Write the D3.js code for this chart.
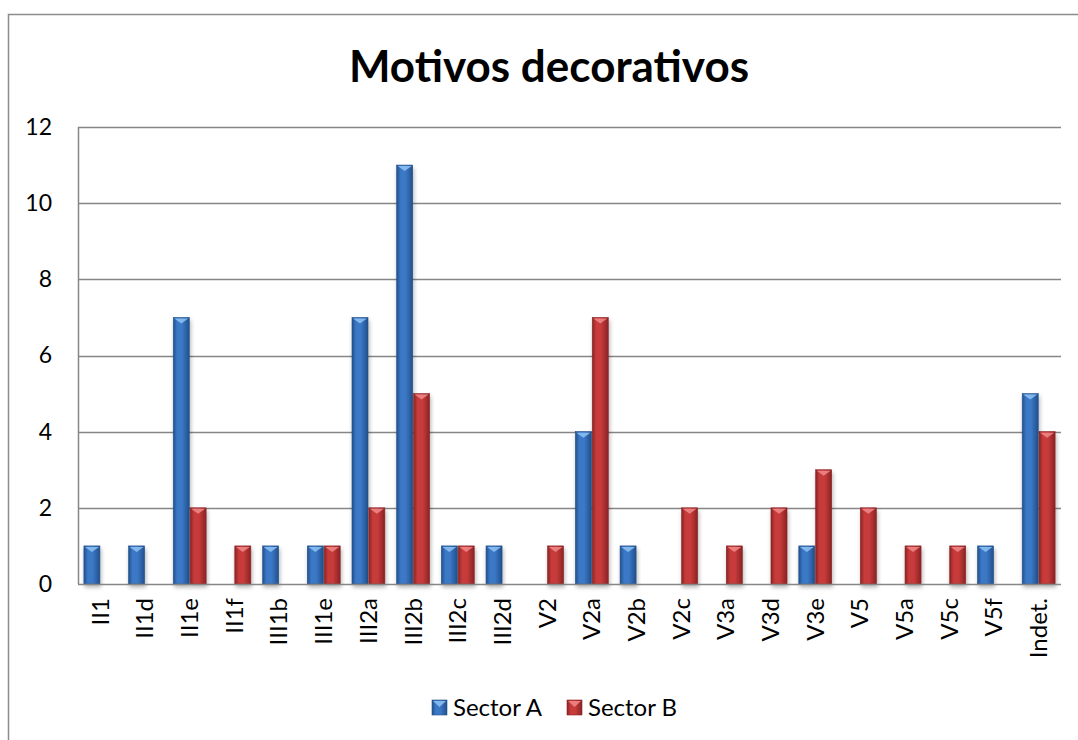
<!DOCTYPE html>
<html>
<head>
<meta charset="utf-8">
<script src="https://cdn.jsdelivr.net/npm/d3@7"></script>
<style>
  body { margin: 0; background: #fff; }
  text { font-family: Lato, "Open Sans", sans-serif; fill: #000; }
</style>
</head>
<body>
<div id="chart"></div>
<script>
var categories = ['II1', 'II1d', 'II1e', 'II1f', 'III1b', 'III1e', 'III2a', 'III2b', 'III2c', 'III2d',
  'V2', 'V2a', 'V2b', 'V2c', 'V3a', 'V3d', 'V3e', 'V5', 'V5a', 'V5c', 'V5f', 'Indet.'];
var sectorA = [1, 1, 7, 0, 1, 1, 7, 11, 1, 1, 0, 4, 1, 0, 0, 0, 1, 0, 0, 0, 1, 5];
var sectorB = [0, 0, 2, 1, 0, 1, 2, 5, 1, 0, 1, 7, 0, 2, 1, 2, 3, 2, 1, 1, 0, 4];
var seriesNames = ['Sector A', 'Sector B'];
var yTicks = [0, 2, 4, 6, 8, 10, 12];

var widthCont = 1078, heightCont = 740;
var margin = {top: 127, right: 17, bottom: 156, left: 78};
var width = widthCont - margin.left - margin.right,
    height = heightCont - margin.top - margin.bottom;

var colors = [
  {mid: '#3b78c6', edge: '#22508c', tip: '#8fc3f5'},
  {mid: '#c83b3b', edge: '#8a2324', tip: '#f08a8a'}
];

var svg = d3.select('#chart').append('svg')
  .attr('width', widthCont).attr('height', heightCont);

var defs = svg.append('defs');
colors.forEach(function(c, i) {
  var g = defs.append('linearGradient').attr('id', 'grad' + i)
    .attr('x1', '0%').attr('x2', '100%').attr('y1', '0%').attr('y2', '0%');
  g.append('stop').attr('offset', '0%').attr('stop-color', c.edge);
  g.append('stop').attr('offset', '25%').attr('stop-color', c.mid);
  g.append('stop').attr('offset', '55%').attr('stop-color', c.mid);
  g.append('stop').attr('offset', '100%').attr('stop-color', c.edge);
});
var shadow = defs.append('filter').attr('id', 'shadow')
  .attr('x', '-30%').attr('y', '-10%').attr('width', '160%').attr('height', '130%');
shadow.append('feDropShadow').attr('dx', 1).attr('dy', 3).attr('stdDeviation', 2)
  .attr('flood-color', '#000').attr('flood-opacity', 0.3);

// outer frame
svg.append('rect')
  .attr('x', 8.5).attr('y', 14.5).attr('width', widthCont).attr('height', heightCont)
  .attr('fill', 'none').attr('stroke', '#8c8c8c').attr('stroke-width', 1.5);

svg.append('text')
  .attr('x', 549).attr('y', 82)
  .attr('text-anchor', 'middle')
  .style('font-size', '44px').style('font-weight', 'bold')
  .text('Motivos decorativos');

var g = svg.append('g').attr('transform', 'translate(' + margin.left + ',' + margin.top + ')');

var x = d3.scaleBand().domain(categories).range([0, width]);
var x1 = d3.scaleBand().domain(seriesNames).range([0, x.bandwidth()]).paddingInner(0.05).paddingOuter(0.35);
var y = d3.scaleLinear().domain([0, 12]).range([height, 0]);

// gridlines
g.selectAll('.grid').data(yTicks.slice(1)).enter().append('line')
  .attr('x1', 0).attr('x2', width)
  .attr('y1', function(d) { return Math.round(y(d)) + 0.5; })
  .attr('y2', function(d) { return Math.round(y(d)) + 0.5; })
  .attr('stroke', '#868686').attr('stroke-width', 1.5);

// y axis
var yAxis = g.append('g').call(d3.axisLeft(y).tickValues(yTicks).tickSize(0).tickPadding(26));
yAxis.select('.domain').remove();
yAxis.selectAll('text').style('font-size', '23px').style('font-family', 'Lato, "Open Sans", sans-serif');

var series = [sectorA, sectorB];
series.forEach(function(vals, si) {
  var grp = g.append('g');
  var data = categories.map(function(c, i) { return {cat: c, v: vals[i]}; }).filter(function(d) { return d.v > 0; });
  grp.selectAll('rect').data(data).enter().append('rect')
    .attr('x', function(d) { return x(d.cat) + x1(seriesNames[si]); })
    .attr('y', function(d) { return y(d.v); })
    .attr('width', x1.bandwidth())
    .attr('height', function(d) { return height - y(d.v); })
    .attr('fill', 'url(#grad' + si + ')')
    .attr('stroke', colors[si].edge).attr('stroke-width', 0.6)
    .attr('filter', 'url(#shadow)');
  grp.selectAll('path').data(data).enter().append('path')
    .attr('d', function(d) {
      var bx = x(d.cat) + x1(seriesNames[si]), bw = x1.bandwidth(), by = y(d.v);
      return 'M' + (bx + 1) + ',' + (by + 1) + 'L' + (bx + bw - 1) + ',' + (by + 1) +
        'L' + (bx + bw / 2) + ',' + (by + 6) + 'Z';
    })
    .attr('fill', colors[si].tip).attr('opacity', 0.85);
});

// axis lines
g.append('line').attr('x1', 0.5).attr('x2', 0.5).attr('y1', 0).attr('y2', height)
  .attr('stroke', '#868686').attr('stroke-width', 1.5);
g.append('line').attr('x1', 0).attr('x2', width).attr('y1', height + 0.5).attr('y2', height + 0.5)
  .attr('stroke', '#868686').attr('stroke-width', 1.5);

// x labels
var xAxis = g.append('g').attr('transform', 'translate(0,' + height + ')')
  .call(d3.axisBottom(x).tickSize(0));
xAxis.select('.domain').remove();
xAxis.selectAll('text')
  .style('font-size', '24px').style('font-family', 'Lato, "Open Sans", sans-serif')
  .attr('text-anchor', 'end')
  .attr('transform', 'rotate(-90)')
  .attr('x', -14).attr('y', 0).attr('dy', '0.35em');

// legend
var legend = svg.append('g').attr('transform', 'translate(432,700)');
var lx = [0, 135];
seriesNames.forEach(function(n, i) {
  var it = legend.append('g').attr('transform', 'translate(' + lx[i] + ',0)');
  it.append('rect').attr('width', 15).attr('height', 15)
    .attr('fill', 'url(#grad' + i + ')').attr('stroke', colors[i].edge).attr('stroke-width', 0.6);
  it.append('path').attr('d', 'M1,1L14,1L7.5,7Z').attr('fill', colors[i].tip).attr('opacity', 0.85);
  it.append('text').attr('x', 21).attr('y', 7.5).attr('dy', '0.35em')
    .style('font-size', '24px').text(n);
});
</script>
</body>
</html>
